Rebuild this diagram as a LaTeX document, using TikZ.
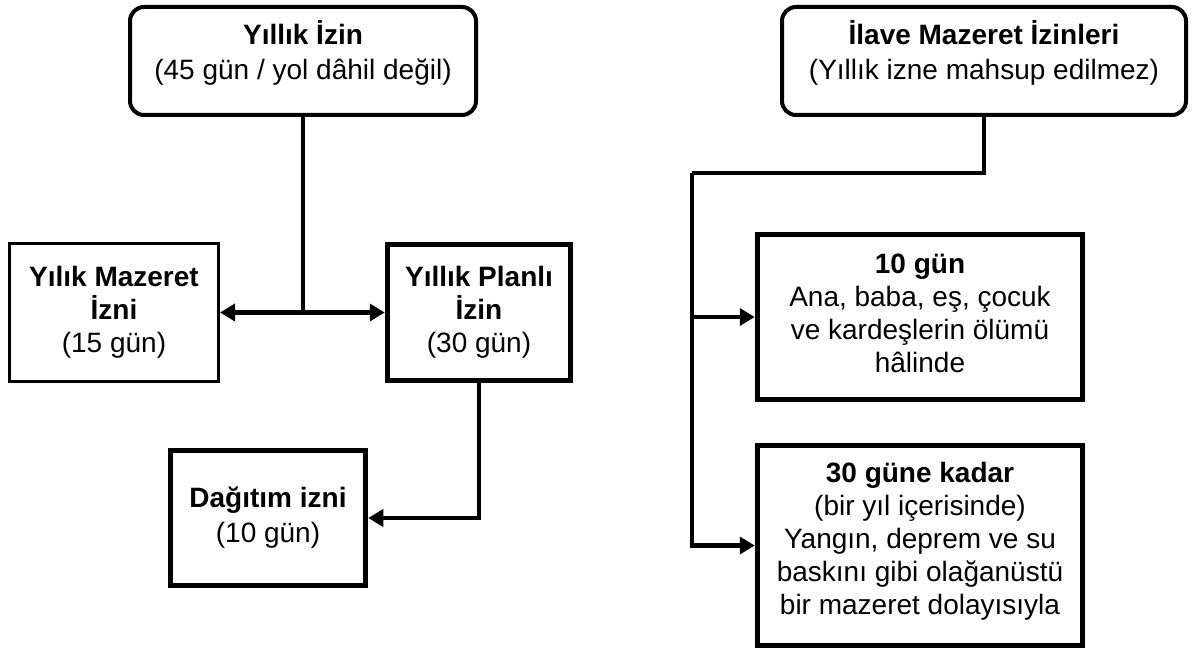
\documentclass[tikz,border=0pt]{standalone}
\usepackage{fontspec}
\setmainfont{Liberation Sans}
\usepackage{tikz}
\usetikzlibrary{arrows.meta}
\tikzset{
	kutu/.style={draw, line width=5.5pt, align=center, inner sep=4pt, font=\fontsize{28}{#1}\selectfont},
	kutu/.default=33,
	ince/.style={kutu, line width=3pt},
	yuvarlak/.style={kutu=35, line width=4pt, rounded corners=14pt},
	hat/.style={line width=4.5pt},
	ok/.style={line width=4.5pt, -{Triangle[length=15pt,width=17pt]}}
}

\begin{document}
\begin{tikzpicture}[x=1pt,y=-1pt]
					\useasboundingbox[fill=white] (0,0) rectangle (1193,652);
					
					% Sol taraf: yillik izin
					\node[yuvarlak, minimum width=346, minimum height=108] (yillik) at (303,61)
					{\textbf{Yıllık İzin}\\(45 gün / yol dâhil değil)\rule[-22pt]{0pt}{22pt}};
					\node[ince, minimum width=209, minimum height=138] (mazeret) at (114,312.5)
					{\textbf{Yılık Mazeret}\\\textbf{İzni}\\(15 gün)};
					\node[kutu, minimum width=183, minimum height=136] (planli) at (479,312.5)
					{\textbf{Yıllık Planlı}\\\textbf{İzin}\\(30 gün)};
					\node[kutu=35, minimum width=195, minimum height=135] (dagitim) at (268,518)
					{\textbf{Dağıtım izni}\\(10 gün)};
					
					% Sag taraf: ilave mazeret izinleri
					\node[yuvarlak, minimum width=404, minimum height=108] (ilave) at (984,61)
					{\textbf{İlave Mazeret İzinleri}\\(Yıllık izne mahsup edilmez)\rule[-22pt]{0pt}{22pt}};
					\node[kutu, minimum width=325, minimum height=165] (olum) at (920,317)
					{\textbf{10 gün}\\Ana, baba, eş, çocuk\\ve kardeşlerin ölümü\\hâlinde\rule[-8pt]{0pt}{8pt}};
					\node[kutu, minimum width=325, minimum height=200] (afet) at (920,545.5)
					{\textbf{30 güne kadar}\\(bir yıl içerisinde)\\Yangın, deprem ve su\\baskını gibi olağanüstü\\bir mazeret dolayısıyla\rule[-14pt]{0pt}{14pt}};
					
					% Baglantilar
					\coordinate (ayrim) at (yillik.south |- mazeret.east);
					\coordinate (kol) at (692,173);
					\draw[hat] (yillik.south) -- (ayrim);
					\draw[ok] (ayrim) -- (mazeret.east);
					\draw[ok] (ayrim) -- (planli.west);
					\draw[ok] (planli.south) |- (dagitim.east);
					
					\draw[hat] (ilave.south) |- (kol);
					\draw[ok] (kol) |- (afet.west);
					\draw[ok] (kol |- olum.west) -- (olum.west);
					
\end{tikzpicture}
\end{document}
